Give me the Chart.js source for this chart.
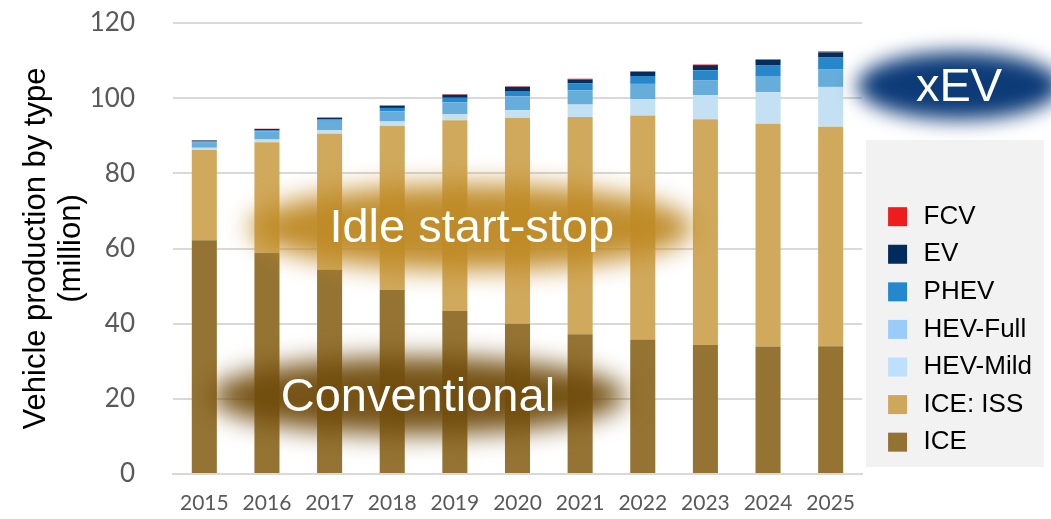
<!DOCTYPE html>
<html><head><meta charset="utf-8">
<script src="https://cdn.jsdelivr.net/npm/chart.js@4.4.1/dist/chart.umd.min.js"></script>
<style>html,body{margin:0;padding:0;background:#fff;}#wrap{width:1051px;height:519px;}</style>
</head><body><div id="wrap"><canvas id="c" width="1051" height="519"></canvas></div>
<script>
const years = ['2015','2016','2017','2018','2019','2020','2021','2022','2023','2024','2025'];
const seriesNames = ['ICE', 'ICE: ISS', 'HEV-Mild', 'HEV-Full', 'PHEV', 'EV', 'FCV'];
const ice     = [62.2, 58.9, 54.4, 49.0, 43.4, 40.0, 37.2, 35.8, 34.3, 33.9, 34.0];
const iceIss  = [24.1, 29.4, 36.1, 43.6, 50.7, 54.8, 57.8, 59.6, 60.1, 59.3, 58.4];
const hevMild = [0.5, 0.7, 1.0, 1.2, 1.6, 2.0, 3.3, 4.3, 6.4, 8.4, 10.6];
const hevFull = [1.5, 2.2, 2.5, 2.7, 3.2, 3.7, 3.8, 4.1, 4.0, 4.3, 4.6];
const phev    = [0.25, 0.3, 0.35, 0.9, 1.2, 1.4, 1.9, 2.1, 2.6, 2.9, 3.2];
const ev      = [0.2, 0.3, 0.45, 0.6, 0.8, 1.1, 1.0, 1.1, 1.4, 1.4, 1.4];
const fcv     = [0.05, 0.1, 0.1, 0.1, 0.2, 0.2, 0.2, 0.2, 0.2, 0.2, 0.3];
const yTicks  = [0, 20, 40, 60, 80, 100, 120];
const yTitle  = ['Vehicle production by type', '(million)'];

const barColors    = ['#957433', '#D1A95C', '#C4E0F3', '#66ADDB', '#2688CA', '#062C5C', '#E9585C'];
const legendColors = ['#937334', '#CEA75B', '#BEE0FC', '#99CCF8', '#2489CC', '#002B5C', '#EE1C1C'];

// Annotation callouts anchored in data units (category index, value)
const callouts = [
  {text: 'Idle start-stop', xi: 4.27, yv: 65.6, rx: 222, ry: 43, color: '#BE8924', alpha: 0.96, blur: 13},
  {text: 'Conventional',    xi: 3.41, yv: 20.8, rx: 208, ry: 39, color: '#704C0C', alpha: 0.96, blur: 13},
  {text: 'xEV',             xi: 12.05, yv: 103.3, rx: 102, ry: 34, color: '#0C3B78', alpha: 1, blur: 10}
];

const dataArrays = [ice, iceIss, hevMild, hevFull, phev, ev, fcv];
const datasets = seriesNames.map((name, i) => ({
  label: name,
  data: dataArrays[i],
  backgroundColor: barColors[i],
  borderWidth: 0,
  barPercentage: 0.4,
  categoryPercentage: 1.0
}));

const bgPlugin = {
  id: 'legendBg',
  beforeDraw(chart) {
    const ctx = chart.ctx;
    ctx.save();
    ctx.fillStyle = '#F2F2F2';
    ctx.fillRect(866, 140, 178, 327);
    ctx.restore();
  },
  afterLayout(chart) {
    const lg = chart.legend;
    if (!lg) return;
    lg.left = 873; lg.right = 1051;
    lg.top = 192.1; lg.bottom = 519;
    lg.width = lg.right - lg.left; lg.height = lg.bottom - lg.top;
  }
};

const calloutPlugin = {
  id: 'callouts',
  afterDraw(chart) {
    const ctx = chart.ctx;
    const xs = chart.scales.x, ys = chart.scales.y;
    callouts.forEach(c => {
      const cx = xs.getPixelForValue(c.xi);
      const cy = ys.getPixelForValue(c.yv);
      ctx.save();
      ctx.filter = 'blur(' + c.blur + 'px)';
      ctx.globalAlpha = c.alpha;
      ctx.fillStyle = c.color;
      ctx.beginPath();
      ctx.ellipse(cx, cy, c.rx, c.ry, 0, 0, Math.PI * 2);
      ctx.fill();
      ctx.restore();
      ctx.save();
      ctx.fillStyle = '#FFFFFF';
      ctx.font = '47px "Liberation Sans", Arial, sans-serif';
      ctx.textAlign = 'center';
      ctx.textBaseline = 'middle';
      ctx.fillText(c.text, cx, cy + 2);
      ctx.restore();
    });
  }
};

new Chart(document.getElementById('c'), {
  type: 'bar',
  data: { labels: years, datasets },
  options: {
    responsive: false,
    animation: false,
    layout: { padding: { left: 14, right: 39, top: 23, bottom: 0 } },
    plugins: {
      tooltip: { enabled: false },
      legend: {
        position: 'right',
        align: 'start',
        reverse: true,
        maxWidth: 150,
        labels: {
          usePointStyle: true,
          pointStyle: 'rect',
          boxWidth: 26,
          boxHeight: 19,
          padding: 11.58,
          color: '#000000',
          font: { family: '"Liberation Sans", Arial, sans-serif', size: 26 },
          generateLabels(chart) {
            const items = Chart.defaults.plugins.legend.labels.generateLabels(chart);
            items.forEach(it => {
              it.fillStyle = legendColors[it.datasetIndex];
              it.strokeStyle = legendColors[it.datasetIndex];
              it.lineWidth = 0;
              it.pointStyle = 'rect';
            });
            return items;
          }
        }
      }
    },
    scales: {
      x: {
        stacked: true,
        grid: { display: false, drawTicks: false },
        border: { color: '#D9D9D9', width: 2 },
        ticks: { color: '#595959', padding: 17, font: { family: 'Lato', size: 21 }, maxRotation: 0 },
        afterFit(scale) { scale.height = 45; }
      },
      y: {
        stacked: true,
        min: 0, max: 120,
        afterBuildTicks(scale) { scale.ticks = yTicks.map(v => ({ value: v })); },
        grid: { color: '#D9D9D9', lineWidth: 2, drawTicks: true, tickLength: 30.6, tickColor: 'rgba(0,0,0,0)' },
        border: { display: false },
        ticks: { color: '#595959', padding: 7.4, font: { family: 'Lato', size: 26 } },
        title: {
          display: true,
          text: yTitle,
          color: '#000000',
          font: { family: '"Liberation Sans", Arial, sans-serif', size: 31, lineHeight: 1.16 },
          padding: { top: 4, bottom: 4 }
        },
        afterFit(scale) { scale.width = 159; }
      }
    }
  },
  plugins: [bgPlugin, calloutPlugin]
});
</script>
</body></html>
